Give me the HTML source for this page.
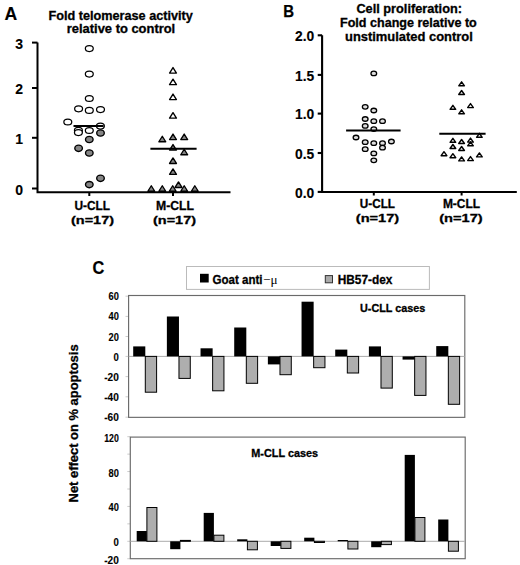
<!DOCTYPE html>
<html><head><meta charset="utf-8"><style>
html,body{margin:0;padding:0;background:#fff;}
svg{display:block;}
text{font-family:"Liberation Sans", sans-serif;}

</style></head><body>
<svg width="520" height="565" viewBox="0 0 520 565">
<rect width="520" height="565" fill="#fff"/>
<text x="4.6" y="19.5" font-size="18" font-weight="bold" text-anchor="start" fill="#000" textLength="12.7" lengthAdjust="spacingAndGlyphs" stroke="#000" stroke-width="0.15" >A</text>
<text x="48.5" y="19.5" font-size="12.3" font-weight="bold" text-anchor="start" fill="#000" textLength="144.3" lengthAdjust="spacingAndGlyphs" stroke="#000" stroke-width="0.3" >Fold telomerase activity</text>
<text x="66.8" y="33" font-size="12.3" font-weight="bold" text-anchor="start" fill="#000" textLength="108.4" lengthAdjust="spacingAndGlyphs" stroke="#000" stroke-width="0.3" >relative to control</text>
<path d="M37.5 42.6 V192.3 H230.5" fill="none" stroke="#000" stroke-width="2"/>
<line x1="32" y1="42.6" x2="37.5" y2="42.6" stroke="#000" stroke-width="2"/>
<line x1="32" y1="88" x2="37.5" y2="88" stroke="#000" stroke-width="2"/>
<line x1="32" y1="137.8" x2="37.5" y2="137.8" stroke="#000" stroke-width="2"/>
<line x1="32" y1="188.5" x2="37.5" y2="188.5" stroke="#000" stroke-width="2"/>
<line x1="89.3" y1="192" x2="89.3" y2="196" stroke="#000" stroke-width="2"/>
<line x1="173" y1="192" x2="173" y2="196" stroke="#000" stroke-width="2"/>
<text x="23" y="48.8" font-size="14" font-weight="bold" text-anchor="end" fill="#000" stroke="#000" stroke-width="0.12" >3</text>
<text x="23" y="94.2" font-size="14" font-weight="bold" text-anchor="end" fill="#000" stroke="#000" stroke-width="0.12" >2</text>
<text x="23" y="144.0" font-size="14" font-weight="bold" text-anchor="end" fill="#000" stroke="#000" stroke-width="0.12" >1</text>
<text x="23" y="194.7" font-size="14" font-weight="bold" text-anchor="end" fill="#000" stroke="#000" stroke-width="0.12" >0</text>
<text x="74.4" y="209.9" font-size="12.5" font-weight="bold" text-anchor="start" fill="#000" textLength="35.6" lengthAdjust="spacingAndGlyphs" stroke="#000" stroke-width="0.3" >U-CLL</text>
<text x="71" y="223.7" font-size="11.8" font-weight="bold" text-anchor="start" fill="#000" textLength="43" lengthAdjust="spacingAndGlyphs" stroke="#000" stroke-width="0.3" >(n=17)</text>
<text x="156" y="209.9" font-size="12.5" font-weight="bold" text-anchor="start" fill="#000" textLength="38" lengthAdjust="spacingAndGlyphs" stroke="#000" stroke-width="0.3" >M-CLL</text>
<text x="153" y="223.7" font-size="11.8" font-weight="bold" text-anchor="start" fill="#000" textLength="43" lengthAdjust="spacingAndGlyphs" stroke="#000" stroke-width="0.3" >(n=17)</text>
<ellipse cx="89.3" cy="48.6" rx="3.95" ry="2.95" fill="#fff" stroke="#000" stroke-width="1.25"/>
<ellipse cx="89.3" cy="74.1" rx="3.95" ry="2.95" fill="#fff" stroke="#000" stroke-width="1.25"/>
<ellipse cx="89.3" cy="98.5" rx="3.95" ry="2.95" fill="#fff" stroke="#000" stroke-width="1.25"/>
<ellipse cx="78.6" cy="108.8" rx="3.95" ry="2.95" fill="#fff" stroke="#000" stroke-width="1.25"/>
<ellipse cx="89.3" cy="110.4" rx="3.95" ry="2.95" fill="#fff" stroke="#000" stroke-width="1.25"/>
<ellipse cx="100.5" cy="109.6" rx="3.95" ry="2.95" fill="#fff" stroke="#000" stroke-width="1.25"/>
<ellipse cx="67.8" cy="122" rx="3.95" ry="2.95" fill="#fff" stroke="#000" stroke-width="1.25"/>
<ellipse cx="78.4" cy="130.2" rx="3.95" ry="2.95" fill="#fff" stroke="#000" stroke-width="1.25"/>
<ellipse cx="78.4" cy="132.6" rx="3.95" ry="2.95" fill="#fff" stroke="#000" stroke-width="1.25"/>
<ellipse cx="89.3" cy="130.5" rx="3.95" ry="2.95" fill="#fff" stroke="#000" stroke-width="1.25"/>
<ellipse cx="100.4" cy="126.1" rx="3.95" ry="2.95" fill="#fff" stroke="#000" stroke-width="1.25"/>
<ellipse cx="100.5" cy="133" rx="3.8" ry="3.15" fill="#858585" stroke="#000" stroke-width="1.35"/>
<ellipse cx="89.3" cy="139.5" rx="3.8" ry="3.15" fill="#858585" stroke="#000" stroke-width="1.35"/>
<ellipse cx="78.6" cy="148.3" rx="3.8" ry="3.15" fill="#858585" stroke="#000" stroke-width="1.35"/>
<ellipse cx="89.3" cy="153" rx="3.8" ry="3.15" fill="#858585" stroke="#000" stroke-width="1.35"/>
<ellipse cx="100.5" cy="178.3" rx="3.8" ry="3.15" fill="#858585" stroke="#000" stroke-width="1.35"/>
<ellipse cx="89.3" cy="184.6" rx="3.8" ry="3.15" fill="#858585" stroke="#000" stroke-width="1.35"/>
<line x1="73.5" y1="126" x2="103.6" y2="126" stroke="#000" stroke-width="2"/>
<path d="M169.55 73.05 L173.00 67.55 L176.45 73.05 Z" fill="#fff" stroke="#000" stroke-width="1.35" stroke-linejoin="round"/>
<path d="M169.55 84.65 L173.00 79.15 L176.45 84.65 Z" fill="#fff" stroke="#000" stroke-width="1.35" stroke-linejoin="round"/>
<path d="M169.55 99.55 L173.00 94.05 L176.45 99.55 Z" fill="#fff" stroke="#000" stroke-width="1.35" stroke-linejoin="round"/>
<path d="M169.55 118.15 L173.00 112.65 L176.45 118.15 Z" fill="#fff" stroke="#000" stroke-width="1.35" stroke-linejoin="round"/>
<path d="M158.85 141.75 L162.30 136.25 L165.75 141.75 Z" fill="#858585" stroke="#000" stroke-width="1.35" stroke-linejoin="round"/>
<path d="M169.55 139.55 L173.00 134.05 L176.45 139.55 Z" fill="#858585" stroke="#000" stroke-width="1.35" stroke-linejoin="round"/>
<path d="M180.75 139.55 L184.20 134.05 L187.65 139.55 Z" fill="#858585" stroke="#000" stroke-width="1.35" stroke-linejoin="round"/>
<path d="M169.55 150.05 L173.00 144.55 L176.45 150.05 Z" fill="#858585" stroke="#000" stroke-width="1.35" stroke-linejoin="round"/>
<path d="M180.75 154.75 L184.20 149.25 L187.65 154.75 Z" fill="#858585" stroke="#000" stroke-width="1.35" stroke-linejoin="round"/>
<path d="M169.55 163.45 L173.00 157.95 L176.45 163.45 Z" fill="#858585" stroke="#000" stroke-width="1.35" stroke-linejoin="round"/>
<path d="M169.55 174.35 L173.00 168.85 L176.45 174.35 Z" fill="#858585" stroke="#000" stroke-width="1.35" stroke-linejoin="round"/>
<path d="M175.05 187.45 L178.50 181.95 L181.95 187.45 Z" fill="#858585" stroke="#000" stroke-width="1.35" stroke-linejoin="round"/>
<path d="M147.85 191.25 L151.30 185.75 L154.75 191.25 Z" fill="#858585" stroke="#000" stroke-width="1.35" stroke-linejoin="round"/>
<path d="M158.85 191.25 L162.30 185.75 L165.75 191.25 Z" fill="#858585" stroke="#000" stroke-width="1.35" stroke-linejoin="round"/>
<path d="M169.25 191.25 L172.70 185.75 L176.15 191.25 Z" fill="#858585" stroke="#000" stroke-width="1.35" stroke-linejoin="round"/>
<path d="M180.75 191.25 L184.20 185.75 L187.65 191.25 Z" fill="#858585" stroke="#000" stroke-width="1.35" stroke-linejoin="round"/>
<path d="M191.35 191.25 L194.80 185.75 L198.25 191.25 Z" fill="#858585" stroke="#000" stroke-width="1.35" stroke-linejoin="round"/>
<line x1="150.4" y1="148.8" x2="196.6" y2="148.8" stroke="#000" stroke-width="2"/>
<text x="283.2" y="17.3" font-size="17.3" font-weight="bold" text-anchor="start" fill="#000" textLength="10.8" lengthAdjust="spacingAndGlyphs" stroke="#000" stroke-width="0.25" >B</text>
<text x="356.4" y="12.8" font-size="12.3" font-weight="bold" text-anchor="start" fill="#000" textLength="105.6" lengthAdjust="spacingAndGlyphs" stroke="#000" stroke-width="0.3" >Cell proliferation:</text>
<text x="340" y="27.4" font-size="12.3" font-weight="bold" text-anchor="start" fill="#000" textLength="136.8" lengthAdjust="spacingAndGlyphs" stroke="#000" stroke-width="0.3" >Fold change relative to</text>
<text x="345" y="41.2" font-size="12.3" font-weight="bold" text-anchor="start" fill="#000" textLength="127.8" lengthAdjust="spacingAndGlyphs" stroke="#000" stroke-width="0.3" >unstimulated control</text>
<path d="M322.1 35.3 V192 H516.8" fill="none" stroke="#000" stroke-width="2.1"/>
<line x1="317.7" y1="35.3" x2="322.1" y2="35.3" stroke="#000" stroke-width="2.1"/>
<text x="314.2" y="41.1" font-size="14.5" font-weight="bold" text-anchor="end" fill="#000" textLength="19.2" lengthAdjust="spacingAndGlyphs" stroke="#000" stroke-width="0.15" >2.0</text>
<line x1="317.7" y1="74.9" x2="322.1" y2="74.9" stroke="#000" stroke-width="2.1"/>
<text x="314.2" y="80.7" font-size="14.5" font-weight="bold" text-anchor="end" fill="#000" textLength="19.2" lengthAdjust="spacingAndGlyphs" stroke="#000" stroke-width="0.15" >1.5</text>
<line x1="317.7" y1="113.6" x2="322.1" y2="113.6" stroke="#000" stroke-width="2.1"/>
<text x="314.2" y="119.4" font-size="14.5" font-weight="bold" text-anchor="end" fill="#000" textLength="19.2" lengthAdjust="spacingAndGlyphs" stroke="#000" stroke-width="0.15" >1.0</text>
<line x1="317.7" y1="153" x2="322.1" y2="153" stroke="#000" stroke-width="2.1"/>
<text x="314.2" y="158.8" font-size="14.5" font-weight="bold" text-anchor="end" fill="#000" textLength="19.2" lengthAdjust="spacingAndGlyphs" stroke="#000" stroke-width="0.15" >0.5</text>
<line x1="317.7" y1="191.9" x2="322.1" y2="191.9" stroke="#000" stroke-width="2.1"/>
<text x="314.2" y="197.7" font-size="14.5" font-weight="bold" text-anchor="end" fill="#000" textLength="19.2" lengthAdjust="spacingAndGlyphs" stroke="#000" stroke-width="0.15" >0.0</text>
<line x1="373.8" y1="192" x2="373.8" y2="195.5" stroke="#000" stroke-width="2"/>
<line x1="461.6" y1="192" x2="461.6" y2="195.5" stroke="#000" stroke-width="2"/>
<text x="359.8" y="208.3" font-size="12.2" font-weight="bold" text-anchor="start" fill="#000" textLength="35.2" lengthAdjust="spacingAndGlyphs" stroke="#000" stroke-width="0.3" >U-CLL</text>
<text x="355.8" y="222.4" font-size="11.8" font-weight="bold" text-anchor="start" fill="#000" textLength="43.4" lengthAdjust="spacingAndGlyphs" stroke="#000" stroke-width="0.3" >(n=17)</text>
<text x="442.9" y="208.3" font-size="12.2" font-weight="bold" text-anchor="start" fill="#000" textLength="37.2" lengthAdjust="spacingAndGlyphs" stroke="#000" stroke-width="0.3" >M-CLL</text>
<text x="439.2" y="222.4" font-size="11.8" font-weight="bold" text-anchor="start" fill="#000" textLength="43.5" lengthAdjust="spacingAndGlyphs" stroke="#000" stroke-width="0.3" >(n=17)</text>
<ellipse cx="373.8" cy="73.4" rx="2.85" ry="2.25" fill="#ddd" stroke="#000" stroke-width="1.3"/>
<ellipse cx="365.2" cy="106.8" rx="2.85" ry="2.25" fill="#ddd" stroke="#000" stroke-width="1.3"/>
<ellipse cx="373.8" cy="110.5" rx="2.85" ry="2.25" fill="#ddd" stroke="#000" stroke-width="1.3"/>
<ellipse cx="365.2" cy="119.0" rx="2.85" ry="2.25" fill="#ddd" stroke="#000" stroke-width="1.3"/>
<ellipse cx="373.8" cy="121.2" rx="2.85" ry="2.25" fill="#ddd" stroke="#000" stroke-width="1.3"/>
<ellipse cx="382.5" cy="121.2" rx="2.85" ry="2.25" fill="#ddd" stroke="#000" stroke-width="1.3"/>
<ellipse cx="365.2" cy="125.9" rx="2.85" ry="2.25" fill="#ddd" stroke="#000" stroke-width="1.3"/>
<ellipse cx="373.8" cy="129.1" rx="2.85" ry="2.25" fill="#ddd" stroke="#000" stroke-width="1.3"/>
<ellipse cx="356" cy="137.5" rx="2.85" ry="2.25" fill="#ddd" stroke="#000" stroke-width="1.3"/>
<ellipse cx="365.2" cy="142.2" rx="2.85" ry="2.25" fill="#ddd" stroke="#000" stroke-width="1.3"/>
<ellipse cx="373.8" cy="143.2" rx="2.85" ry="2.25" fill="#ddd" stroke="#000" stroke-width="1.3"/>
<ellipse cx="382.5" cy="143.2" rx="2.85" ry="2.25" fill="#ddd" stroke="#000" stroke-width="1.3"/>
<ellipse cx="391.4" cy="141.5" rx="2.85" ry="2.25" fill="#ddd" stroke="#000" stroke-width="1.3"/>
<ellipse cx="365.2" cy="149.2" rx="2.85" ry="2.25" fill="#ddd" stroke="#000" stroke-width="1.3"/>
<ellipse cx="382.5" cy="147.7" rx="2.85" ry="2.25" fill="#ddd" stroke="#000" stroke-width="1.3"/>
<ellipse cx="373.8" cy="153.4" rx="2.85" ry="2.25" fill="#ddd" stroke="#000" stroke-width="1.3"/>
<ellipse cx="373.8" cy="160.3" rx="2.85" ry="2.25" fill="#ddd" stroke="#000" stroke-width="1.3"/>
<line x1="346.1" y1="130.6" x2="400.6" y2="130.6" stroke="#000" stroke-width="2"/>
<path d="M458.75 85.80 L461.60 81.80 L464.45 85.80 Z" fill="#f2f2f2" stroke="#000" stroke-width="1.4" stroke-linejoin="round"/>
<path d="M458.75 94.50 L461.60 90.50 L464.45 94.50 Z" fill="#f2f2f2" stroke="#000" stroke-width="1.4" stroke-linejoin="round"/>
<path d="M450.05 109.30 L452.90 105.30 L455.75 109.30 Z" fill="#f2f2f2" stroke="#000" stroke-width="1.4" stroke-linejoin="round"/>
<path d="M467.65 107.60 L470.50 103.60 L473.35 107.60 Z" fill="#f2f2f2" stroke="#000" stroke-width="1.4" stroke-linejoin="round"/>
<path d="M458.75 113.80 L461.60 109.80 L464.45 113.80 Z" fill="#f2f2f2" stroke="#000" stroke-width="1.4" stroke-linejoin="round"/>
<path d="M476.55 137.30 L479.40 133.30 L482.25 137.30 Z" fill="#f2f2f2" stroke="#000" stroke-width="1.4" stroke-linejoin="round"/>
<path d="M450.05 142.30 L452.90 138.30 L455.75 142.30 Z" fill="#f2f2f2" stroke="#000" stroke-width="1.4" stroke-linejoin="round"/>
<path d="M458.75 143.50 L461.60 139.50 L464.45 143.50 Z" fill="#f2f2f2" stroke="#000" stroke-width="1.4" stroke-linejoin="round"/>
<path d="M467.65 142.10 L470.50 138.10 L473.35 142.10 Z" fill="#f2f2f2" stroke="#000" stroke-width="1.4" stroke-linejoin="round"/>
<path d="M467.65 145.80 L470.50 141.80 L473.35 145.80 Z" fill="#f2f2f2" stroke="#000" stroke-width="1.4" stroke-linejoin="round"/>
<path d="M450.05 148.50 L452.90 144.50 L455.75 148.50 Z" fill="#f2f2f2" stroke="#000" stroke-width="1.4" stroke-linejoin="round"/>
<path d="M458.75 150.50 L461.60 146.50 L464.45 150.50 Z" fill="#f2f2f2" stroke="#000" stroke-width="1.4" stroke-linejoin="round"/>
<path d="M441.15 155.70 L444.00 151.70 L446.85 155.70 Z" fill="#f2f2f2" stroke="#000" stroke-width="1.4" stroke-linejoin="round"/>
<path d="M450.05 157.70 L452.90 153.70 L455.75 157.70 Z" fill="#f2f2f2" stroke="#000" stroke-width="1.4" stroke-linejoin="round"/>
<path d="M458.75 160.90 L461.60 156.90 L464.45 160.90 Z" fill="#f2f2f2" stroke="#000" stroke-width="1.4" stroke-linejoin="round"/>
<path d="M467.65 160.60 L470.50 156.60 L473.35 160.60 Z" fill="#f2f2f2" stroke="#000" stroke-width="1.4" stroke-linejoin="round"/>
<path d="M476.55 156.90 L479.40 152.90 L482.25 156.90 Z" fill="#f2f2f2" stroke="#000" stroke-width="1.4" stroke-linejoin="round"/>
<line x1="439.3" y1="133.7" x2="485.6" y2="133.7" stroke="#000" stroke-width="2"/>
<text x="92.4" y="274" font-size="17.5" font-weight="bold" text-anchor="start" fill="#000" textLength="11.8" lengthAdjust="spacingAndGlyphs" stroke="#000" stroke-width="0.2" >C</text>
<rect x="186.5" y="266.5" width="242.9" height="22.9" fill="#fff" stroke="#bbb" stroke-width="1"/>
<rect x="200" y="273.8" width="8.7" height="8.7" fill="#000"/>
<text x="212.5" y="283.8" font-size="13" font-weight="bold" text-anchor="start" fill="#000" textLength="50" lengthAdjust="spacingAndGlyphs" stroke="#000" stroke-width="0.3" >Goat anti</text>
<text x="263" y="283.8" font-size="13" font-weight="normal" text-anchor="start" fill="#000" textLength="14.5" lengthAdjust="spacingAndGlyphs" style='font-family:"Liberation Serif", serif' >−μ</text>
<rect x="325.3" y="275.6" width="7.2" height="7.2" fill="#aaa" stroke="#333" stroke-width="1"/>
<text x="337.7" y="283.8" font-size="13" font-weight="bold" text-anchor="start" fill="#000" textLength="54.7" lengthAdjust="spacingAndGlyphs" stroke="#000" stroke-width="0.3" >HB57-dex</text>
<text x="118.8" y="300.2" font-size="10" font-weight="bold" text-anchor="end" fill="#000" textLength="10.3" lengthAdjust="spacingAndGlyphs" stroke="#000" stroke-width="0.12" >60</text>
<line x1="125.5" y1="296.2" x2="128.6" y2="296.2" stroke="#ccc" stroke-width="1"/>
<text x="118.8" y="320.35" font-size="10" font-weight="bold" text-anchor="end" fill="#000" textLength="10.3" lengthAdjust="spacingAndGlyphs" stroke="#000" stroke-width="0.12" >40</text>
<line x1="125.5" y1="316.4" x2="128.6" y2="316.4" stroke="#ccc" stroke-width="1"/>
<text x="118.8" y="340.5" font-size="10" font-weight="bold" text-anchor="end" fill="#000" textLength="10.3" lengthAdjust="spacingAndGlyphs" stroke="#000" stroke-width="0.12" >20</text>
<line x1="125.5" y1="336.5" x2="128.6" y2="336.5" stroke="#ccc" stroke-width="1"/>
<text x="118.8" y="360.65" font-size="10" font-weight="bold" text-anchor="end" fill="#000" textLength="5.3" lengthAdjust="spacingAndGlyphs" stroke="#000" stroke-width="0.12" >0</text>
<line x1="125.5" y1="356.4" x2="128.6" y2="356.4" stroke="#ccc" stroke-width="1"/>
<text x="118.8" y="380.8" font-size="10" font-weight="bold" text-anchor="end" fill="#000" textLength="14.6" lengthAdjust="spacingAndGlyphs" stroke="#000" stroke-width="0.12" >-20</text>
<line x1="125.5" y1="376.6" x2="128.6" y2="376.6" stroke="#ccc" stroke-width="1"/>
<text x="118.8" y="400.95" font-size="10" font-weight="bold" text-anchor="end" fill="#000" textLength="14.6" lengthAdjust="spacingAndGlyphs" stroke="#000" stroke-width="0.12" >-40</text>
<line x1="125.5" y1="396.8" x2="128.6" y2="396.8" stroke="#ccc" stroke-width="1"/>
<text x="118.8" y="421.1" font-size="10" font-weight="bold" text-anchor="end" fill="#000" textLength="14.6" lengthAdjust="spacingAndGlyphs" stroke="#000" stroke-width="0.12" >-60</text>
<line x1="125.5" y1="417.2" x2="128.6" y2="417.2" stroke="#ccc" stroke-width="1"/>
<rect x="128.6" y="295.5" width="336.2" height="121.85" fill="none" stroke="#6a6a6a" stroke-width="1.15"/>
<line x1="128.6" y1="356.4" x2="464.8" y2="356.4" stroke="#aaa" stroke-width="1"/>
<text x="360" y="312.1" font-size="11.4" font-weight="bold" text-anchor="start" fill="#000" textLength="65.3" lengthAdjust="spacingAndGlyphs" stroke="#000" stroke-width="0.3" >U-CLL cases</text>
<rect x="133.20" y="346.40" width="12.1" height="10.00" fill="#000"/>
<rect x="145.30" y="356.40" width="11.3" height="35.80" fill="#aeaeae" stroke="#000" stroke-width="1"/>
<rect x="166.87" y="316.50" width="12.1" height="39.90" fill="#000"/>
<rect x="178.97" y="356.40" width="11.3" height="22.00" fill="#aeaeae" stroke="#000" stroke-width="1"/>
<rect x="200.54" y="348.30" width="12.1" height="8.10" fill="#000"/>
<rect x="212.64" y="356.40" width="11.3" height="34.40" fill="#aeaeae" stroke="#000" stroke-width="1"/>
<rect x="234.21" y="327.50" width="12.1" height="28.90" fill="#000"/>
<rect x="246.31" y="356.40" width="11.3" height="26.90" fill="#aeaeae" stroke="#000" stroke-width="1"/>
<rect x="267.88" y="356.40" width="12.1" height="8.00" fill="#000"/>
<rect x="279.98" y="356.40" width="11.3" height="18.30" fill="#aeaeae" stroke="#000" stroke-width="1"/>
<rect x="301.55" y="301.70" width="12.1" height="54.70" fill="#000"/>
<rect x="313.65" y="356.40" width="11.3" height="11.30" fill="#aeaeae" stroke="#000" stroke-width="1"/>
<rect x="335.22" y="349.60" width="12.1" height="6.80" fill="#000"/>
<rect x="347.32" y="356.40" width="11.3" height="16.60" fill="#aeaeae" stroke="#000" stroke-width="1"/>
<rect x="368.89" y="346.40" width="12.1" height="10.00" fill="#000"/>
<rect x="380.99" y="356.40" width="11.3" height="31.70" fill="#aeaeae" stroke="#000" stroke-width="1"/>
<rect x="402.56" y="356.40" width="12.1" height="3.20" fill="#000"/>
<rect x="414.66" y="356.40" width="11.3" height="39.00" fill="#aeaeae" stroke="#000" stroke-width="1"/>
<rect x="436.23" y="346.10" width="12.1" height="10.30" fill="#000"/>
<rect x="448.33" y="356.40" width="11.3" height="47.90" fill="#aeaeae" stroke="#000" stroke-width="1"/>
<text x="118.8" y="441.55" font-size="10" font-weight="bold" text-anchor="end" fill="#000" textLength="14.6" lengthAdjust="spacingAndGlyphs" stroke="#000" stroke-width="0.12" >120</text>
<text x="118.8" y="476.5" font-size="10" font-weight="bold" text-anchor="end" fill="#000" textLength="10.3" lengthAdjust="spacingAndGlyphs" stroke="#000" stroke-width="0.12" >80</text>
<text x="118.8" y="511.45" font-size="10" font-weight="bold" text-anchor="end" fill="#000" textLength="10.3" lengthAdjust="spacingAndGlyphs" stroke="#000" stroke-width="0.12" >40</text>
<text x="118.8" y="546.4" font-size="10" font-weight="bold" text-anchor="end" fill="#000" textLength="5.3" lengthAdjust="spacingAndGlyphs" stroke="#000" stroke-width="0.12" >0</text>
<text x="118.8" y="563.9" font-size="10" font-weight="bold" text-anchor="end" fill="#000" textLength="14.6" lengthAdjust="spacingAndGlyphs" stroke="#000" stroke-width="0.12" >-20</text>
<line x1="127.3" y1="558.73" x2="130.3" y2="558.73" stroke="#ccc" stroke-width="1"/>
<line x1="127.3" y1="541.30" x2="130.3" y2="541.30" stroke="#ccc" stroke-width="1"/>
<line x1="127.3" y1="523.87" x2="130.3" y2="523.87" stroke="#ccc" stroke-width="1"/>
<line x1="127.3" y1="506.43" x2="130.3" y2="506.43" stroke="#ccc" stroke-width="1"/>
<line x1="127.3" y1="489.00" x2="130.3" y2="489.00" stroke="#ccc" stroke-width="1"/>
<line x1="127.3" y1="471.56" x2="130.3" y2="471.56" stroke="#ccc" stroke-width="1"/>
<line x1="127.3" y1="454.13" x2="130.3" y2="454.13" stroke="#ccc" stroke-width="1"/>
<line x1="127.3" y1="436.70" x2="130.3" y2="436.70" stroke="#ccc" stroke-width="1"/>
<rect x="130.3" y="437.1" width="334.9" height="121.6" fill="none" stroke="#6a6a6a" stroke-width="1.15"/>
<line x1="130.3" y1="541.3" x2="464.8" y2="541.3" stroke="#aaa" stroke-width="1"/>
<text x="251.3" y="457" font-size="11.4" font-weight="bold" text-anchor="start" fill="#000" textLength="66.8" lengthAdjust="spacingAndGlyphs" stroke="#000" stroke-width="0.3" >M-CLL cases</text>
<rect x="136.70" y="531.00" width="10.2" height="10.30" fill="#000"/>
<rect x="146.90" y="507.50" width="10" height="33.80" fill="#aeaeae" stroke="#000" stroke-width="1"/>
<rect x="170.20" y="541.30" width="10.2" height="7.90" fill="#000"/>
<rect x="180.40" y="540.40" width="10" height="0.90" fill="#aeaeae" stroke="#000" stroke-width="1"/>
<rect x="203.70" y="512.90" width="10.2" height="28.40" fill="#000"/>
<rect x="213.90" y="535.20" width="10" height="6.10" fill="#aeaeae" stroke="#000" stroke-width="1"/>
<rect x="237.20" y="539.30" width="10.2" height="2.00" fill="#000"/>
<rect x="247.40" y="541.30" width="10" height="8.50" fill="#aeaeae" stroke="#000" stroke-width="1"/>
<rect x="270.70" y="541.30" width="10.2" height="4.70" fill="#000"/>
<rect x="280.90" y="541.30" width="10" height="7.10" fill="#aeaeae" stroke="#000" stroke-width="1"/>
<rect x="304.20" y="537.70" width="10.2" height="3.60" fill="#000"/>
<rect x="314.40" y="541.30" width="10" height="1.20" fill="#aeaeae" stroke="#000" stroke-width="1"/>
<rect x="337.70" y="540.00" width="10.2" height="1.30" fill="#000"/>
<rect x="347.90" y="541.30" width="10" height="7.70" fill="#aeaeae" stroke="#000" stroke-width="1"/>
<rect x="371.20" y="541.30" width="10.2" height="5.90" fill="#000"/>
<rect x="381.40" y="541.30" width="10" height="3.30" fill="#aeaeae" stroke="#000" stroke-width="1"/>
<rect x="404.70" y="454.90" width="10.2" height="86.40" fill="#000"/>
<rect x="414.90" y="517.50" width="10" height="23.80" fill="#aeaeae" stroke="#000" stroke-width="1"/>
<rect x="438.20" y="519.50" width="10.2" height="21.80" fill="#000"/>
<rect x="448.40" y="541.30" width="10" height="9.90" fill="#aeaeae" stroke="#000" stroke-width="1"/>
<text transform="translate(78.1,502.4) rotate(-90)" font-size="13" font-weight="bold" stroke="#000" stroke-width="0.3" textLength="158" lengthAdjust="spacingAndGlyphs">Net effect on % apoptosis</text>
</svg>
</body></html>
